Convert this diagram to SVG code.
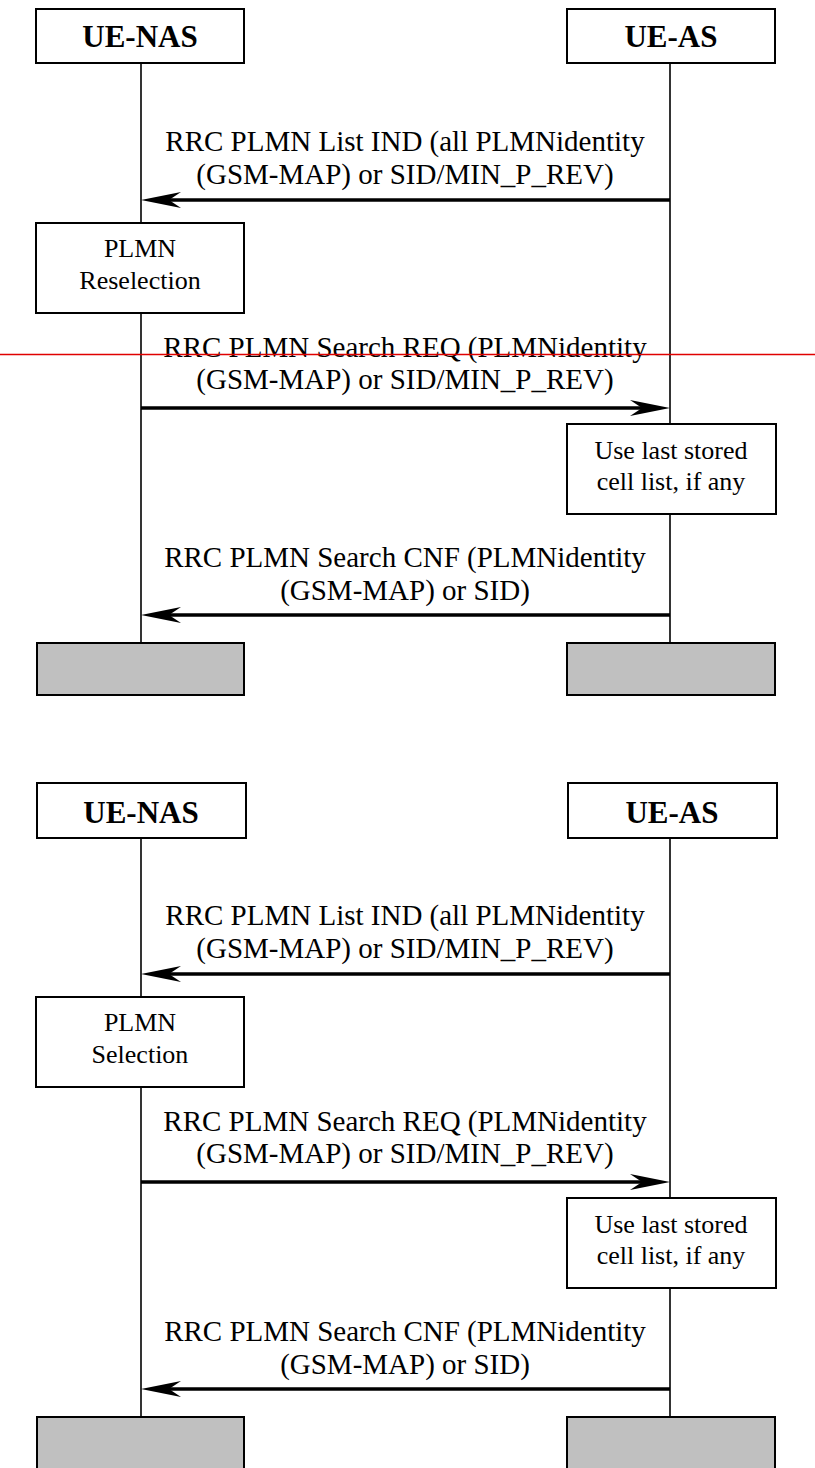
<svg xmlns="http://www.w3.org/2000/svg" width="815" height="1468" viewBox="0 0 815 1468">
<style>
.box{fill:#fff;stroke:#000;stroke-width:2}
.grey{fill:#c0c0c0;stroke:#000;stroke-width:2}
.life{stroke:#000;stroke-width:1.6;fill:none}
.msg{stroke:#000;stroke-width:3.5;fill:none;marker-end:url(#ah)}
.hdr{font-family:"Liberation Serif","Times New Roman",serif;font-weight:bold;font-size:31px;text-anchor:middle;fill:#000}
.lbl{font-family:"Liberation Serif","Times New Roman",serif;font-size:29px;text-anchor:middle;fill:#000}
.note{font-family:"Liberation Serif","Times New Roman",serif;font-size:26px;text-anchor:middle;fill:#000}
</style>
<defs>
<marker id="ah" markerUnits="userSpaceOnUse" viewBox="0 0 40 18" refX="21" refY="9" markerWidth="40" markerHeight="18" orient="auto">
<path d="M0,1 L40,9 L0,17 L12,9 Z" fill="#000"/>
</marker>
</defs>
<rect width="815" height="1468" fill="#fff"/>

<!-- Diagram 1 -->
<g id="d1">
<g id="d1-connectors">
<line class="life" x1="141" y1="63" x2="141" y2="643"/>
<line class="life" x1="670" y1="63" x2="670" y2="643"/>
<line class="msg" x1="670" y1="200" x2="160" y2="200"/>
<line class="msg" x1="141" y1="408" x2="651" y2="408"/>
<line class="msg" x1="670" y1="615" x2="160" y2="615"/>
</g>
<g id="d1-uenas"><rect class="box" x="36" y="9" width="208" height="54"/><text class="hdr" x="140" y="47">UE-NAS</text></g>
<g id="d1-ueas"><rect class="box" x="567" y="9" width="208" height="54"/><text class="hdr" x="671" y="47">UE-AS</text></g>
<g id="d1-m1"><text class="lbl" x="405" y="151">RRC PLMN List IND (all PLMNidentity</text><text class="lbl" x="405" y="184">(GSM-MAP) or SID/MIN_P_REV)</text></g>
<g id="d1-resel"><rect class="box" x="36" y="223" width="208" height="90"/><text class="note" x="140" y="257">PLMN</text><text class="note" x="140" y="289">Reselection</text></g>
<g id="d1-m2"><text class="lbl" x="405" y="357">RRC PLMN Search REQ (PLMNidentity</text><text class="lbl" x="405" y="389">(GSM-MAP) or SID/MIN_P_REV)</text></g>
<g id="d1-use"><rect class="box" x="567" y="424" width="209" height="90"/><text class="note" x="671" y="459">Use last stored</text><text class="note" x="671" y="490">cell list, if any</text></g>
<g id="d1-m3"><text class="lbl" x="405" y="567">RRC PLMN Search CNF (PLMNidentity</text><text class="lbl" x="405" y="600">(GSM-MAP) or SID)</text></g>
<g id="d1-end-nas"><rect class="grey" x="37" y="643" width="207" height="52"/></g>
<g id="d1-end-as"><rect class="grey" x="567" y="643" width="208" height="52"/></g>
</g>

<line id="redline" x1="0" y1="354.5" x2="815" y2="354.5" stroke="#e00000" stroke-width="1.6"/>

<!-- Diagram 2 -->
<g id="d2" transform="translate(0,774)">
<g id="d2-connectors">
<line class="life" x1="141" y1="63" x2="141" y2="643"/>
<line class="life" x1="670" y1="63" x2="670" y2="643"/>
<line class="msg" x1="670" y1="200" x2="160" y2="200"/>
<line class="msg" x1="141" y1="408" x2="651" y2="408"/>
<line class="msg" x1="670" y1="615" x2="160" y2="615"/>
</g>
<g id="d2-uenas"><rect class="box" x="37" y="9" width="209" height="55"/><text class="hdr" x="141" y="49">UE-NAS</text></g>
<g id="d2-ueas"><rect class="box" x="568" y="9" width="209" height="55"/><text class="hdr" x="672" y="49">UE-AS</text></g>
<g id="d2-m1"><text class="lbl" x="405" y="151">RRC PLMN List IND (all PLMNidentity</text><text class="lbl" x="405" y="184">(GSM-MAP) or SID/MIN_P_REV)</text></g>
<g id="d2-sel"><rect class="box" x="36" y="223" width="208" height="90"/><text class="note" x="140" y="257">PLMN</text><text class="note" x="140" y="289">Selection</text></g>
<g id="d2-m2"><text class="lbl" x="405" y="357">RRC PLMN Search REQ (PLMNidentity</text><text class="lbl" x="405" y="389">(GSM-MAP) or SID/MIN_P_REV)</text></g>
<g id="d2-use"><rect class="box" x="567" y="424" width="209" height="90"/><text class="note" x="671" y="459">Use last stored</text><text class="note" x="671" y="490">cell list, if any</text></g>
<g id="d2-m3"><text class="lbl" x="405" y="567">RRC PLMN Search CNF (PLMNidentity</text><text class="lbl" x="405" y="600">(GSM-MAP) or SID)</text></g>
<g id="d2-end-nas"><rect class="grey" x="37" y="643" width="207" height="60"/></g>
<g id="d2-end-as"><rect class="grey" x="567" y="643" width="208" height="60"/></g>
</g>
</svg>
